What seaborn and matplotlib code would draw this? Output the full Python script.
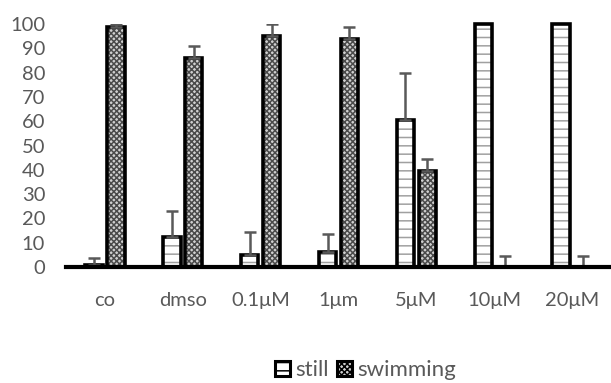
import matplotlib
matplotlib.use("Agg")
import matplotlib.pyplot as plt
import matplotlib.colors as mcolors
from matplotlib.patches import Patch
import numpy as np
import pandas as pd
import seaborn as sns

groups = ["co", "dmso", "0.1μM", "1μm", "5μM", "10μM", "20μM"]
still = [1, 12.5, 5, 6, 60.5, 100, 100]
still_err = [2.5, 10.5, 9.5, 7.5, 19.5, 0, 0]
swimming = [99, 86, 95, 94, 39.5, 0, 0]
swimming_err = [1, 5, 5, 5, 5, 4.5, 4.5]

df = pd.DataFrame({
    "group": groups * 2,
    "state": ["still"] * len(groups) + ["swimming"] * len(groups),
    "value": still + swimming,
})

sns.set_style("white")
plt.rcParams["font.family"] = ["Lato", "DejaVu Sans"]
plt.rcParams["hatch.linewidth"] = 1.1
grey = "#595959"
fs = 14.5

fig, ax = plt.subplots(figsize=(6.11, 3.83), dpi=100)
fig.subplots_adjust(left=0.108, right=1.0, bottom=0.303, top=0.937)

sns.barplot(data=df, x="group", y="value", hue="state", order=groups,
            hue_order=["still", "swimming"], width=0.56, gap=0.2,
            palette=["white", "white"], edgecolor="black", linewidth=2.6,
            errorbar=None, legend=False, ax=ax)

styles = [
    dict(hatch="--", hc="#a0a0a0", fc="white"),
    dict(hatch="xxxxxx", hc="#4a4a4a", fc="#d0d0d0"),
]
errs = [still_err, swimming_err]
vals = [still, swimming]
bar_sets = list(ax.containers)[:2]
for i, cont in enumerate(bar_sets):
    st = styles[i]
    xs, ys, es = [], [], []
    for bar, v, e in zip(cont, vals[i], errs[i]):
        bar.set_facecolor(st["fc"])
        bar.set_hatch(st["hatch"])
        bar._hatch_color = mcolors.to_rgba(st["hc"])
        bar.set_clip_on(False)
        if e > 0:
            xs.append(bar.get_x() + bar.get_width() / 2)
            ys.append(v)
            es.append(e)
    ax.errorbar(xs, ys, yerr=[np.zeros(len(es)), es], fmt="none",
                ecolor=grey, elinewidth=1.8, capsize=4.5, capthick=1.8,
                zorder=1)

ax.set_ylim(0, 100)
ax.set_xlim(-0.5, 6.5)
ax.set_yticks(range(0, 101, 10))
ax.set_xlabel("")
ax.set_ylabel("")
ax.tick_params(axis="y", length=0, pad=15, labelsize=fs, labelcolor=grey)
ax.tick_params(axis="x", length=0, pad=18, labelsize=fs, labelcolor=grey)
for s in ["left", "right", "top"]:
    ax.spines[s].set_visible(False)
ax.spines["bottom"].set_color("black")
ax.spines["bottom"].set_linewidth(3)
ax.spines["bottom"].set_zorder(5)

handles = [
    Patch(facecolor="white", edgecolor="black", hatch="--", linewidth=2.2),
    Patch(facecolor="#d0d0d0", edgecolor="black", hatch="xxxxxx", linewidth=2.2),
]
fig.legend(handles, ["still", "swimming"], loc="lower center",
           bbox_to_anchor=(0.598, -0.045), ncol=2, frameon=False,
           handlelength=0.68, handleheight=0.68, handletextpad=0.25,
           columnspacing=0.35, fontsize=16, labelcolor=grey)

fig.savefig("out.png", dpi=100)
